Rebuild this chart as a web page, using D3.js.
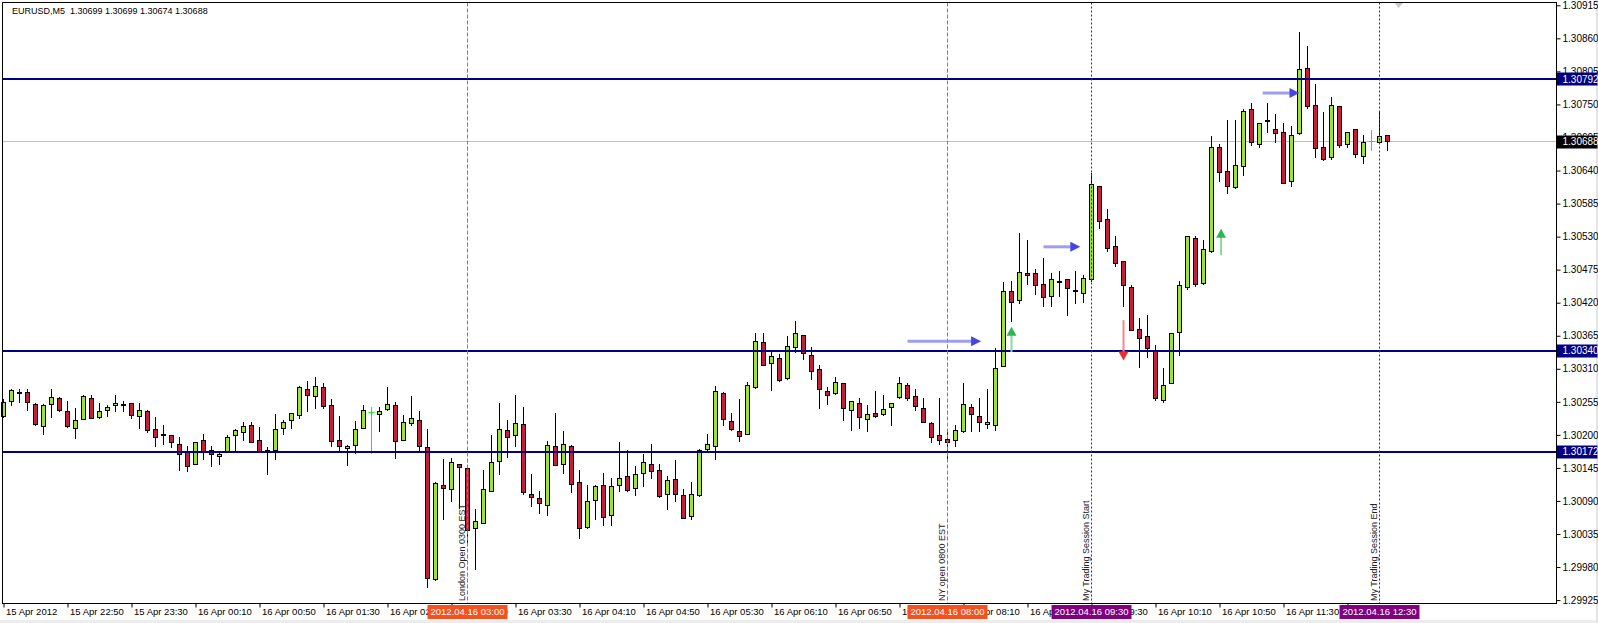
<!DOCTYPE html>
<html><head><meta charset="utf-8">
<script src="https://cdn.jsdelivr.net/npm/d3@7"></script>
<style>
html,body{margin:0;padding:0;background:#fff;overflow:hidden;}
svg{display:block;font-family:"Liberation Sans",Arial,sans-serif;}
</style></head><body>
<svg id="c" width="1598" height="623"></svg>
<script>
// ---------------- DATA ----------------
const chartTitle = "EURUSD,M5  1.30699 1.30699 1.30674 1.30688";
const firstBarTime = "2012-04-15 22:10";
const lastBarTime  = "2012-04-16 12:35";

const openP = [
1.30230,1.30256,1.30270,1.30271,1.30251,1.30214,1.30251,1.30261,1.30239,1.30211,
1.30226,1.30261,1.30229,1.30241,1.30249,1.30250,1.30252,1.30231,1.30239,1.30209,
1.30200,1.30199,1.30184,1.30171,1.30151,1.30191,1.30174,1.30164,1.30171,1.30199,
1.30204,1.30216,1.30191,1.30174,1.30174,1.30211,1.30224,1.30232,1.30276,1.30264,
1.30279,1.30249,1.30191,1.30177,1.30183,1.30211,1.30237,1.30234,1.30242,1.30249,
1.30191,1.30219,1.30224,1.30179,1.29959,1.30116,1.30109,1.30150,1.30144,1.30044,
1.30053,1.30106,1.30156,1.30208,1.30199,1.30218,1.30101,1.30094,1.30083,1.30181,
1.30151,1.30181,1.30121,1.30046,1.30091,1.30116,1.30066,1.30116,1.30131,1.30111,
1.30136,1.30151,1.30141,1.30101,1.30126,1.30099,1.30064,1.30099,1.30176,1.30181,
1.30269,1.30222,1.30206,1.30201,1.30279,1.30354,1.30319,1.30327,1.30294,1.30346,
1.30366,1.30332,1.30309,1.30272,1.30269,1.30286,1.30241,1.30252,1.30226,1.30236,
1.30234,1.30246,1.30262,1.30283,1.30264,1.30244,1.30219,1.30199,1.30193,1.30191,
1.30205,1.30246,1.30231,1.30218,1.30216,1.30314,1.30439,1.30423,1.30469,1.30469,
1.30451,1.30430,1.30455,1.30459,1.30440,1.30435,1.30459,1.30614,1.30559,1.30514,
1.30489,1.30445,1.30376,1.30364,1.30341,1.30257,1.30286,1.30371,1.30445,1.30527,
1.30452,1.30505,1.30678,1.30639,1.30611,1.30646,1.30741,1.30684,1.30721,1.30709,
1.30704,1.30621,1.30701,1.30809,1.30748,1.30679,1.30661,1.30746,1.30684,1.30709,
1.30664,1.30689,1.30686,1.30699];

const highP = [
1.30259,1.30276,1.30275,1.30276,1.30252,1.30250,1.30275,1.30262,1.30256,1.30244,
1.30265,1.30265,1.30253,1.30249,1.30265,1.30256,1.30253,1.30253,1.30240,1.30229,
1.30216,1.30199,1.30196,1.30181,1.30188,1.30201,1.30181,1.30170,1.30199,1.30209,
1.30221,1.30221,1.30213,1.30179,1.30234,1.30224,1.30236,1.30280,1.30289,1.30296,
1.30286,1.30259,1.30231,1.30183,1.30223,1.30249,1.30246,1.30246,1.30279,1.30254,
1.30232,1.30264,1.30239,1.30209,1.30120,1.30159,1.30160,1.30151,1.30145,1.30076,
1.30141,1.30199,1.30252,1.30224,1.30266,1.30246,1.30134,1.30106,1.30189,1.30236,
1.30206,1.30183,1.30141,1.30116,1.30115,1.30136,1.30128,1.30188,1.30174,1.30148,
1.30168,1.30184,1.30151,1.30131,1.30158,1.30109,1.30121,1.30175,1.30201,1.30281,
1.30270,1.30236,1.30259,1.30287,1.30368,1.30368,1.30337,1.30334,1.30364,1.30388,
1.30366,1.30346,1.30316,1.30279,1.30296,1.30286,1.30256,1.30261,1.30249,1.30272,
1.30266,1.30253,1.30296,1.30286,1.30276,1.30261,1.30220,1.30260,1.30209,1.30216,
1.30286,1.30251,1.30260,1.30276,1.30344,1.30454,1.30456,1.30535,1.30523,1.30476,
1.30494,1.30469,1.30472,1.30459,1.30472,1.30465,1.30635,1.30614,1.30575,1.30530,
1.30489,1.30449,1.30394,1.30399,1.30349,1.30311,1.30369,1.30455,1.30531,1.30530,
1.30524,1.30696,1.30683,1.30724,1.30723,1.30741,1.30751,1.30718,1.30751,1.30734,
1.30718,1.30714,1.30869,1.30846,1.30784,1.30736,1.30761,1.30746,1.30704,1.30709,
1.30698,1.30706,1.30739,1.30699];

const lowP = [
1.30229,1.30249,1.30254,1.30240,1.30216,1.30200,1.30229,1.30239,1.30213,1.30194,
1.30225,1.30227,1.30228,1.30230,1.30239,1.30239,1.30228,1.30210,1.30204,1.30180,
1.30184,1.30179,1.30141,1.30139,1.30150,1.30159,1.30147,1.30150,1.30170,1.30173,
1.30191,1.30187,1.30170,1.30134,1.30159,1.30200,1.30211,1.30228,1.30239,1.30244,
1.30244,1.30181,1.30174,1.30149,1.30169,1.30210,1.30169,1.30206,1.30241,1.30160,
1.30190,1.30216,1.30173,1.29946,1.29958,1.30059,1.30089,1.30078,1.30016,1.29976,
1.30052,1.30105,1.30134,1.30162,1.30181,1.30101,1.30081,1.30069,1.30066,1.30149,
1.30136,1.30104,1.30028,1.30045,1.30059,1.30049,1.30049,1.30106,1.30106,1.30099,
1.30114,1.30128,1.30096,1.30076,1.30089,1.30060,1.30059,1.30098,1.30172,1.30159,
1.30216,1.30208,1.30189,1.30200,1.30278,1.30315,1.30274,1.30289,1.30293,1.30337,
1.30326,1.30292,1.30244,1.30251,1.30268,1.30224,1.30207,1.30211,1.30206,1.30229,
1.30233,1.30216,1.30261,1.30257,1.30241,1.30220,1.30187,1.30184,1.30156,1.30180,
1.30204,1.30206,1.30206,1.30210,1.30208,1.30313,1.30389,1.30418,1.30451,1.30434,
1.30414,1.30413,1.30430,1.30398,1.30419,1.30420,1.30455,1.30544,1.30505,1.30480,
1.30414,1.30373,1.30312,1.30329,1.30257,1.30254,1.30285,1.30332,1.30442,1.30447,
1.30450,1.30504,1.30621,1.30601,1.30610,1.30631,1.30681,1.30679,1.30704,1.30686,
1.30618,1.30614,1.30700,1.30743,1.30661,1.30656,1.30659,1.30679,1.30679,1.30661,
1.30651,1.30673,1.30685,1.30674];

const closeP = [
1.30254,1.30274,1.30271,1.30254,1.30218,1.30249,1.30263,1.30240,1.30214,1.30224,
1.30264,1.30228,1.30239,1.30246,1.30252,1.30251,1.30232,1.30241,1.30208,1.30196,
1.30199,1.30188,1.30168,1.30148,1.30188,1.30171,1.30168,1.30168,1.30196,1.30208,
1.30214,1.30188,1.30171,1.30171,1.30209,1.30221,1.30236,1.30279,1.30266,1.30281,
1.30247,1.30189,1.30181,1.30181,1.30209,1.30241,1.30237,1.30239,1.30251,1.30189,
1.30221,1.30228,1.30181,1.29961,1.30119,1.30111,1.30154,1.30146,1.30041,1.30056,
1.30109,1.30154,1.30209,1.30196,1.30219,1.30104,1.30096,1.30086,1.30183,1.30149,
1.30184,1.30118,1.30044,1.30089,1.30114,1.30063,1.30114,1.30128,1.30108,1.30134,
1.30154,1.30139,1.30098,1.30124,1.30101,1.30061,1.30101,1.30174,1.30184,1.30272,
1.30226,1.30209,1.30197,1.30282,1.30356,1.30316,1.30331,1.30291,1.30347,1.30369,
1.30336,1.30306,1.30276,1.30266,1.30287,1.30244,1.30256,1.30229,1.30234,1.30231,
1.30242,1.30253,1.30286,1.30261,1.30247,1.30221,1.30196,1.30191,1.30188,1.30208,
1.30250,1.30234,1.30221,1.30221,1.30311,1.30438,1.30421,1.30471,1.30466,1.30449,
1.30429,1.30459,1.30456,1.30444,1.30441,1.30460,1.30617,1.30555,1.30510,1.30485,
1.30449,1.30374,1.30361,1.30344,1.30261,1.30282,1.30369,1.30449,1.30530,1.30450,
1.30509,1.30679,1.30636,1.30614,1.30649,1.30739,1.30686,1.30718,1.30724,1.30701,
1.30619,1.30698,1.30808,1.30746,1.30676,1.30659,1.30749,1.30681,1.30704,1.30666,
1.30686,1.30689,1.30696,1.30688];

const timeTicks = ["2012-04-15 22:10","2012-04-15 22:50","2012-04-15 23:30","2012-04-16 00:10","2012-04-16 00:50",
  "2012-04-16 01:30","2012-04-16 02:10","2012-04-16 02:50","2012-04-16 03:30","2012-04-16 04:10","2012-04-16 04:50",
  "2012-04-16 05:30","2012-04-16 06:10","2012-04-16 06:50","2012-04-16 07:30","2012-04-16 08:10","2012-04-16 08:50",
  "2012-04-16 09:30","2012-04-16 10:10","2012-04-16 10:50","2012-04-16 11:30","2012-04-16 12:10"];
const timeTickLabels = ["15 Apr 2012","15 Apr 22:50","15 Apr 23:30","16 Apr 00:10","16 Apr 00:50",
  "16 Apr 01:30","16 Apr 02:10","16 Apr 02:50","16 Apr 03:30","16 Apr 04:10","16 Apr 04:50",
  "16 Apr 05:30","16 Apr 06:10","16 Apr 06:50","16 Apr 07:30","16 Apr 08:10","16 Apr 08:50",
  "16 Apr 09:30","16 Apr 10:10","16 Apr 10:50","16 Apr 11:30","16 Apr 12:10"];
const priceTicks = [1.30915,1.30860,1.30805,1.30750,1.30695,1.30640,1.30585,1.30530,1.30475,1.30420,
  1.30365,1.30310,1.30255,1.30200,1.30145,1.30090,1.30035,1.29980,1.29925];
const priceDomain = [1.29925, 1.30915];

const levelPrices = [1.30792, 1.30340, 1.30172];
const bidPrice = 1.30688;

const sessionTimes  = ["2012-04-16 03:00","2012-04-16 08:00","2012-04-16 09:30","2012-04-16 12:30"];
const sessionTexts  = ["London Open 0300 EST","NY open 0800 EST","My Trading Session Start","My Trading Session End"];
const sessionBoxes  = ["2012.04.16 03:00","2012.04.16 08:00","2012.04.16 09:30","2012.04.16 12:30"];
const sessionKinds  = ["open","open","session","session"];

const hArrowStart = ["2012-04-16 07:35","2012-04-16 09:00","2012-04-16 11:17"];
const hArrowEnd   = ["2012-04-16 08:21","2012-04-16 09:23","2012-04-16 11:40"];
const hArrowPrice = [1.30356, 1.30513, 1.30769];
const upArrowTime = ["2012-04-16 08:40","2012-04-16 10:51"];
const upArrowFrom = [1.30338, 1.30499];
const upArrowTo   = [1.30380, 1.30543];
const downArrowTime = ["2012-04-16 09:50"];
const downArrowFrom = [1.30391];
const downArrowTo   = [1.30324];
const shiftMarkTime = "2012-04-16 12:42";

// ---------------- CHART ----------------
const W = 1598, H = 623;
const P = {l: 2.5, t: 2.5, r: 1556.5, b: 603.5};
const BULL = "#9ee337", BEAR = "#c41e3a", DOJI = "#00ff00";
const parseT = d3.timeParse("%Y-%m-%d %H:%M");
const barTimes = d3.timeMinute.every(5).range(parseT(firstBarTime), d3.timeMinute.offset(parseT(lastBarTime), 1));
const bars = barTimes.map((t, i) => ({t, o: openP[i], h: highP[i], l: lowP[i], c: closeP[i]}));

const x = d3.scaleTime().domain([barTimes[0], barTimes[barTimes.length - 1]])
  .range([3.5, 3.5 + 8 * (barTimes.length - 1)]);
const y = d3.scaleLinear().domain(priceDomain).range([600.1, 5.3]);
const py = p => Math.floor(y(p)) + 0.5;

const svg = d3.select("#c");
svg.append("rect").attr("width", W).attr("height", H).attr("fill", "#fff");
svg.append("rect").attr("x", 0).attr("y", 620).attr("width", W).attr("height", 3).attr("fill", "#ececec");
svg.append("rect").attr("x", 1596).attr("y", 0).attr("width", 2).attr("height", H).attr("fill", "#e4e4e4");

// bid line
svg.append("line").attr("x1", P.l).attr("x2", P.r).attr("y1", py(bidPrice)).attr("y2", py(bidPrice))
  .attr("stroke", "#c0c0c0").attr("stroke-width", 1);

// candles
const gC = svg.append("g");
gC.selectAll("line.wick").data(bars).join("line").attr("class", "wick")
  .attr("x1", d => x(d.t)).attr("x2", d => x(d.t))
  .attr("y1", d => py(d.h) - 0.5).attr("y2", d => py(d.l) + 0.5)
  .attr("stroke", d => d.o === d.c ? DOJI : "#000").attr("stroke-width", 1);
const bodies = bars.filter(d => d.o !== d.c);
gC.selectAll("rect.body").data(bodies).join("rect").attr("class", "body")
  .attr("x", d => x(d.t) - 2).attr("width", 4)
  .attr("y", d => py(Math.max(d.o, d.c)))
  .attr("height", d => Math.max(1, py(Math.min(d.o, d.c)) - py(Math.max(d.o, d.c))))
  .attr("fill", d => d.c > d.o ? BULL : BEAR)
  .attr("stroke", "#000").attr("stroke-width", 1);
gC.selectAll("line.doji").data(bars.filter(d => d.o === d.c)).join("line").attr("class", "doji")
  .attr("x1", d => x(d.t) - 3).attr("x2", d => x(d.t) + 3)
  .attr("y1", d => py(d.o)).attr("y2", d => py(d.o))
  .attr("stroke", DOJI).attr("stroke-width", 1);

// level lines
svg.append("g").selectAll("line").data(levelPrices).join("line")
  .attr("x1", P.l).attr("x2", P.r).attr("y1", d => Math.round(y(d))).attr("y2", d => Math.round(y(d)))
  .attr("stroke", "#000080").attr("stroke-width", 2);

// session vertical lines + rotated texts
const sess = sessionTimes.map((t, i) => ({t: parseT(t), text: sessionTexts[i], box: sessionBoxes[i], kind: sessionKinds[i]}));
const sColor = k => k === "open" ? "#d9622b" : "#800080";
const sBox = k => k === "open" ? "#f4511e" : "#800080";
const gS = svg.append("g");
gS.selectAll("line").data(sess).join("line")
  .attr("x1", d => Math.floor(x(d.t)) + 0.5).attr("x2", d => Math.floor(x(d.t)) + 0.5)
  .attr("y1", P.t).attr("y2", P.b)
  .attr("stroke", d => sColor(d.kind)).attr("stroke-width", 1)
  .attr("stroke-dasharray", d => d.kind === "open" ? "4,2" : "2,2");
gS.selectAll("text").data(sess).join("text")
  .attr("transform", d => `translate(${Math.floor(x(d.t)) - 2.5},601) rotate(-90)`)
  .attr("font-size", 9).attr("fill", "#222").text(d => d.text);

// arrows
const gA = svg.append("g");
hArrowPrice.forEach((p, i) => {
  const x0 = x(parseT(hArrowStart[i])), x1 = x(parseT(hArrowEnd[i])), yy = y(p);
  gA.append("line").attr("x1", x0).attr("x2", x1 - 9).attr("y1", yy).attr("y2", yy)
    .attr("stroke", "#8c8cf2").attr("stroke-width", 3).attr("opacity", 0.85);
  gA.append("path").attr("d", `M${x1},${yy}L${x1 - 10},${yy - 5}L${x1 - 10},${yy + 5}Z`).attr("fill", "#4646e0");
});
upArrowTime.forEach((t, i) => {
  const xx = x(parseT(t)), y0 = y(upArrowFrom[i]), y1 = y(upArrowTo[i]);
  gA.append("line").attr("x1", xx).attr("x2", xx).attr("y1", y0).attr("y2", y1 + 8)
    .attr("stroke", "#8fd6a0").attr("stroke-width", 2);
  gA.append("path").attr("d", `M${xx},${y1}L${xx - 5},${y1 + 9}L${xx + 5},${y1 + 9}Z`).attr("fill", "#2fb556");
});
downArrowTime.forEach((t, i) => {
  const xx = x(parseT(t)), y0 = y(downArrowFrom[i]), y1 = y(downArrowTo[i]);
  gA.append("line").attr("x1", xx).attr("x2", xx).attr("y1", y0).attr("y2", y1 - 8)
    .attr("stroke", "#ef8a8a").attr("stroke-width", 2);
  gA.append("path").attr("d", `M${xx},${y1}L${xx - 5},${y1 - 9}L${xx + 5},${y1 - 9}Z`).attr("fill", "#ee2b2b");
});
// chart shift marker
const sx = x(parseT(shiftMarkTime));
svg.append("path").attr("d", `M${sx - 4},3L${sx + 4},3L${sx},8Z`).attr("fill", "#c8c8c8");

// frame
svg.append("rect").attr("x", P.l).attr("y", P.t).attr("width", P.r - P.l).attr("height", P.b - P.t)
  .attr("fill", "none").attr("stroke", "#000").attr("stroke-width", 1);

// title
svg.append("text").attr("x", 12).attr("y", 14).attr("font-size", 9).attr("fill", "#000")
  .attr("xml:space", "preserve").style("white-space", "pre").text(chartTitle);

// right axis
const yAxis = svg.append("g").attr("transform", `translate(${P.r},0)`)
  .call(d3.axisRight(y).tickValues(priceTicks).tickFormat(d3.format(".5f")).tickSize(4).tickPadding(2));
yAxis.select(".domain").remove();
yAxis.selectAll("line").attr("stroke", "#000");
yAxis.selectAll("text").attr("font-size", 10).attr("font-family", "Liberation Sans, Arial, sans-serif").attr("fill", "#000");

// bottom axis
const tickDates = timeTicks.map(parseT);
const xAxis = svg.append("g").attr("transform", `translate(0,${P.b})`)
  .call(d3.axisBottom(x).tickValues(tickDates).tickFormat((d, i) => timeTickLabels[i]).tickSize(4));
xAxis.select(".domain").remove();
xAxis.selectAll("line").attr("stroke", "#000");
xAxis.selectAll("text").attr("text-anchor", "start").attr("x", 2).attr("y", 4).attr("dy", "0.75em")
  .attr("font-size", 9.5).attr("font-family", "Liberation Sans, Arial, sans-serif").attr("fill", "#000");

// price label boxes
const boxes = levelPrices.map(p => ({p, fill: "#000080"})).concat([{p: bidPrice, fill: "#000"}]);
const gB = svg.append("g");
boxes.forEach(b => {
  const yy = y(b.p);
  gB.append("rect").attr("x", P.r + 0.5).attr("y", Math.round(yy) - 6.5).attr("width", W - P.r - 1).attr("height", 13).attr("fill", b.fill);
  gB.append("text").attr("x", P.r + 6).attr("y", yy).attr("dy", "0.35em").attr("font-size", 10)
    .attr("fill", "#fff").text(d3.format(".5f")(b.p));
});

// time label boxes
sess.forEach(s => {
  const xx = x(s.t);
  const t = gB.append("text").attr("x", xx).attr("y", 612).attr("dy", "0.35em").attr("text-anchor", "middle")
    .attr("font-size", 9.5).attr("fill", "#fff").text(s.box);
  const w = t.node().getComputedTextLength() + 6;
  gB.insert("rect", () => t.node()).attr("x", xx - w / 2).attr("y", 605).attr("width", w).attr("height", 14)
    .attr("fill", sBox(s.kind));
});
</script>
</body></html>
